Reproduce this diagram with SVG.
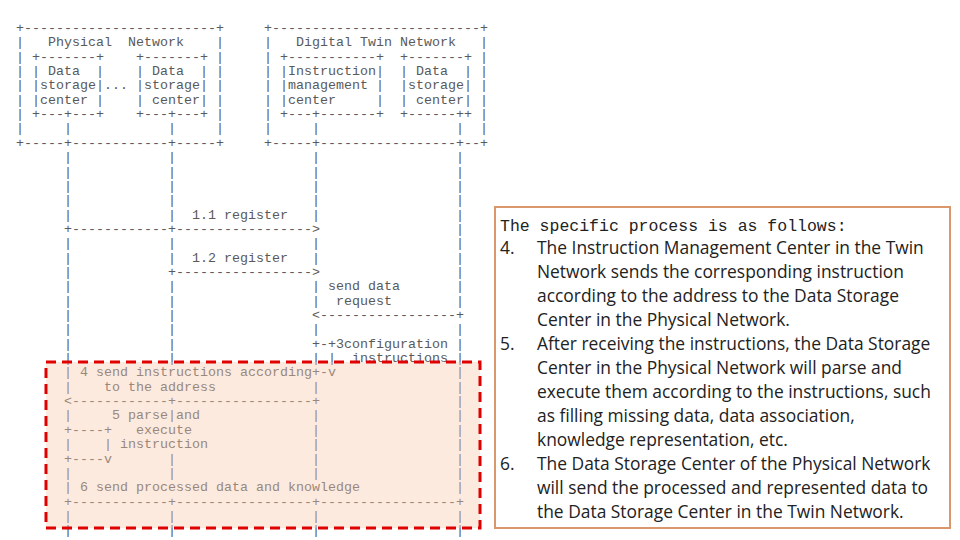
<svg xmlns="http://www.w3.org/2000/svg" width="960" height="540" viewBox="0 0 960 540" xml:space="preserve">
<style>
.a{font-family:"Liberation Mono",monospace;font-size:13.33px;fill:#5a5a5a;white-space:pre}
.h{font-family:"Liberation Mono",monospace;font-size:16.5px;fill:#222;white-space:pre}
.t{font-family:"Open Sans","Liberation Sans",sans-serif;font-size:17.4px;fill:#222}
</style>
<rect width="960" height="540" fill="#fff"/>
<g id="ascii" class="a">
<text xml:space="preserve" x="16" y="32">+------------------------+     +--------------------------+</text>
<text xml:space="preserve" x="16" y="46.35">|   Physical  Network    |     |   Digital Twin Network   |</text>
<text xml:space="preserve" x="16" y="60.7">| +-------+    +-------+ |     | +-----------+  +-------+ |</text>
<text xml:space="preserve" x="16" y="75.05">| | Data  |    | Data  | |     | |Instruction|  | Data  | |</text>
<text xml:space="preserve" x="16" y="89.4">| |storage|... |storage| |     | |management |  |storage| |</text>
<text xml:space="preserve" x="16" y="103.75">| |center |    | center| |     | |center     |  | center| |</text>
<text xml:space="preserve" x="16" y="118.1">| +---+---+    +---+---+ |     | +---+-------+  +------++ |</text>
<text xml:space="preserve" x="16" y="132.45">|     |            |     |     |     |                 |  |</text>
<text xml:space="preserve" x="16" y="146.8">+-----+------------+-----+     +-----+-----------------+--+</text>
<text xml:space="preserve" x="16" y="161.15">      |            |                 |                 |</text>
<text xml:space="preserve" x="16" y="175.5">      |            |                 |                 |</text>
<text xml:space="preserve" x="16" y="189.85">      |            |                 |                 |</text>
<text xml:space="preserve" x="16" y="204.2">      |            |                 |                 |</text>
<text xml:space="preserve" x="16" y="218.55">      |            |  1.1 register   |                 |</text>
<text xml:space="preserve" x="16" y="232.9">      +------------+----------------->                 |</text>
<text xml:space="preserve" x="16" y="247.25">      |            |                 |                 |</text>
<text xml:space="preserve" x="16" y="261.6">      |            |  1.2 register   |                 |</text>
<text xml:space="preserve" x="16" y="275.95">      |            +----------------->                 |</text>
<text xml:space="preserve" x="16" y="290.3">      |            |                 | send data       |</text>
<text xml:space="preserve" x="16" y="304.65">      |            |                 |  request        |</text>
<text xml:space="preserve" x="16" y="319">      |            |                 &lt;-----------------+</text>
<text xml:space="preserve" x="16" y="333.35">      |            |                 |                 |</text>
<text xml:space="preserve" x="16" y="347.7">      |            |                 +-+3configuration |</text>
<text xml:space="preserve" x="16" y="362.05">      |            |                 | |  instructions |</text>
<text xml:space="preserve" x="16" y="376.4">      | 4 send instructions according+-v               |</text>
<text xml:space="preserve" x="16" y="390.75">      |    to the address            |                 |</text>
<text xml:space="preserve" x="16" y="405.1">      &lt;------------+-----------------+                 |</text>
<text xml:space="preserve" x="16" y="419.45">      |     5 parse|and              |                 |</text>
<text xml:space="preserve" x="16" y="433.8">      +----+   execute               |                 |</text>
<text xml:space="preserve" x="16" y="448.15">      |    | instruction             |                 |</text>
<text xml:space="preserve" x="16" y="462.5">      +----v       |                 |                 |</text>
<text xml:space="preserve" x="16" y="476.85">      |            |                 |                 |</text>
<text xml:space="preserve" x="16" y="491.2">      | 6 send processed data and knowledge            |</text>
<text xml:space="preserve" x="16" y="505.55">      +------------+-----------------+-----------------+</text>
<text xml:space="preserve" x="16" y="519.9">      |            |                 |                 |</text>
<text xml:space="preserve" x="16" y="534.25">      |            |                 |                 |</text>
</g>
<g id="highlight">
<rect x="46" y="362" width="434" height="166" fill="#f8cbad" fill-opacity="0.4" stroke="#e00000" stroke-width="3" stroke-dasharray="10 6"/>
</g>
<g id="textbox">
<rect x="495" y="207" width="455" height="321" fill="#fff" stroke="#d9976b" stroke-width="2"/>
<text class="h" x="500" y="231">The specific process is as follows:</text>
<g class="t">
<text x="500" y="254">4.</text><text x="537" y="254">The Instruction Management Center in the Twin</text>
<text x="537" y="278">Network sends the corresponding instruction</text>
<text x="537" y="302">according to the address to the Data Storage</text>
<text x="537" y="326">Center in the Physical Network.</text>
<text x="500" y="350">5.</text><text x="537" y="350">After receiving the instructions, the Data Storage</text>
<text x="537" y="374">Center in the Physical Network will parse and</text>
<text x="537" y="398">execute them according to the instructions, such</text>
<text x="537" y="422">as filling missing data, data association,</text>
<text x="537" y="446">knowledge representation, etc.</text>
<text x="500" y="470">6.</text><text x="537" y="470">The Data Storage Center of the Physical Network</text>
<text x="537" y="494">will send the processed and represented data to</text>
<text x="537" y="518">the Data Storage Center in the Twin Network.</text>
</g>
</g>
</svg>
